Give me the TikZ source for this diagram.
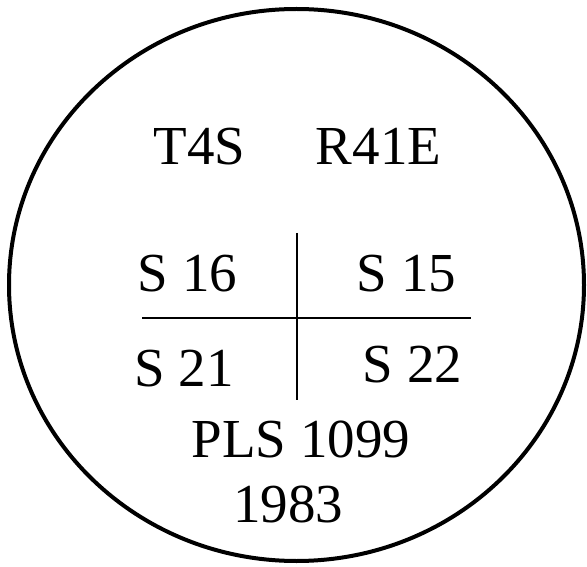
\documentclass[tikz,border=0pt]{standalone}
\usepackage{fontspec}
\setmainfont{Liberation Serif}
\begin{document}
\begin{tikzpicture}[x=1pt,y=1pt,
  lbl/.style={anchor=base,inner sep=0pt,font=\fontsize{55}{62}\selectfont},
  rim/.style={line width=4pt},
  rule/.style={line width=2.2pt}]
\useasboundingbox (0,0) rectangle (587,566);
\draw[rim] (296.5,281) ellipse [x radius=287.5, y radius=276];
\node[lbl] (t4s) at (199.5,401) {T4S};
\node[lbl] (r41e) at (378.5,401) {R41E};
\node[lbl] (s16) at (187.5,274) {S 16};
\node[lbl] (s15) at (406.5,274) {S 15};
\node[lbl] (s21) at (184,179) {S 21};
\node[lbl] (s22) at (412.5,184) {S 22};
\node[lbl] (pls) at (301,109) {PLS 1099};
\node[lbl] (yr) at (288,44) {1983};
\coordinate (vtop) at (297,333);
\coordinate (vbot) at (297,166);
\coordinate (hl) at (142,248);
\coordinate (hr) at (471,248);
\draw[rule] (vtop) -- (vbot);
\draw[rule] (hl) -- (hr);
\end{tikzpicture}
\end{document}
